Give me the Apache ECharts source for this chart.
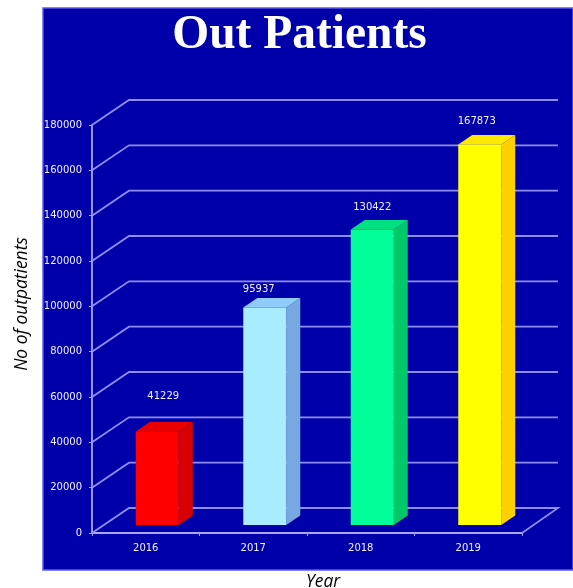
<!DOCTYPE html>
<html><head><meta charset="utf-8">
<style>html,body{margin:0;padding:0;background:#fff}#c{width:573px;height:588px}</style>
<script src="https://cdn.jsdelivr.net/npm/echarts@6/dist/echarts.min.js"></script>
</head><body><div id="c"></div>
<script>
const categories = ['2016','2017','2018','2019'];
const outpatients = [41229,95937,130422,167873];
const yTicks = [0,20000,40000,60000,80000,100000,120000,140000,160000,180000];
const frontColors = ['#ff0000','#a8ecff','#00ff99','#ffff00'];
const sideColors = ['#d80000','#78a8e0','#00c868','#ffd000'];
const topColors = ['#e80000','#90ccfa','#00e080','#ffe800'];
const labelLift = [26,9,12,13.5];
const labelShift = [6,-6,0,-3];
const wallDX = 37, wallDY = 25, wallW = 429;
const barW = 43, barShift = 11.5, baseDY = 8, depthX = 14, depthY = 9.5;
const lineCol = '#8e8efa';

const chart = echarts.init(document.getElementById('c'));
chart.setOption({
  animation:false,
  graphic:[
    {type:'rect',z:-100,shape:{x:43,y:8,width:530,height:562},
     style:{fill:'#0000aa',stroke:'#5a5af0',lineWidth:1.5}},
    {type:'text',x:22,y:304,rotation:Math.PI/2,
     style:{text:'No of outpatients',align:'center',verticalAlign:'middle',fill:'#000',font:'italic 17.4px "Open Sans"'}},
    {type:'text',x:323,y:582,
     style:{text:'Year',align:'center',verticalAlign:'middle',fill:'#000',font:'italic 17.4px "Open Sans"'}},
    {type:'text',x:299.5,y:36,
     style:{text:'Out Patients',align:'center',verticalAlign:'middle',fill:'#fff',font:'bold 47.5px "Liberation Serif"'}}
  ],
  grid:{left:92,top:125,width:430,height:408,containLabel:false,outerBoundsMode:'none'},
  xAxis:{type:'category',data:categories,
    axisLine:{lineStyle:{color:'#a8a8f4',width:1.8}},
    axisTick:{show:true,length:3,alignWithLabel:false,lineStyle:{color:'#a8a8f4'}},
    axisLabel:{color:'#f0f0ff',fontFamily:'DejaVu Sans',fontSize:10,margin:10},
    splitLine:{show:false}},
  yAxis:{type:'value',min:0,max:180000,interval:20000,
    axisLine:{show:true,lineStyle:{color:'#a8a8f4',width:1.8}},
    axisTick:{show:true,length:3,lineStyle:{color:'#a8a8f4'}},
    axisLabel:{color:'#f0f0ff',fontFamily:'DejaVu Sans',fontSize:10,margin:10,formatter:v=>String(v)},
    splitLine:{show:false}},
  series:[
    {type:'custom',coordinateSystem:'cartesian2d',z:1,silent:true,
     data:yTicks.map(v=>[0,v]),encode:{x:0,y:1},clip:false,
     renderItem:(p,api)=>{
       const y=api.coord([0,api.value(1)])[1], x0=p.coordSys.x;
       const pts=[[x0,y],[x0+wallDX,y-wallDY],[x0+wallDX+wallW,y-wallDY]];
       if(api.value(1)===0) pts.push([x0+p.coordSys.width,y]);
       return {type:'polyline',shape:{points:pts},style:{stroke:lineCol,lineWidth:1.8,fill:'none'}};
     }},
    {type:'custom',coordinateSystem:'cartesian2d',z:2,silent:true,clip:false,
     data:outpatients.map((v,i)=>[i,v]),encode:{x:0,y:1},
     renderItem:(p,api)=>{
       const i=api.value(0), v=api.value(1);
       const cx=api.coord([i,0])[0]+barShift;
       const base=api.coord([i,0])[1]-baseDY;
       const h=api.size([0,v])[1];
       const L=cx-barW/2,R=cx+barW/2,T=base-h;
       return {type:'group',children:[
         {type:'polygon',shape:{points:[[R,base],[R+depthX,base-depthY],[R+depthX,T-depthY],[R,T]]},style:{fill:sideColors[i]}},
         {type:'polygon',shape:{points:[[L,T],[L+depthX,T-depthY],[R+depthX,T-depthY],[R,T]]},style:{fill:topColors[i]}},
         {type:'rect',shape:{x:L,y:T,width:barW,height:h},style:{fill:frontColors[i]}},
         {type:'text',style:{x:cx+labelShift[i],y:T-depthY-labelLift[i],text:String(v),align:'center',verticalAlign:'middle',
           fill:'#f0f0ff',font:'10px "DejaVu Sans"'}}
       ]};
     }}
  ]
});
</script></body></html>
